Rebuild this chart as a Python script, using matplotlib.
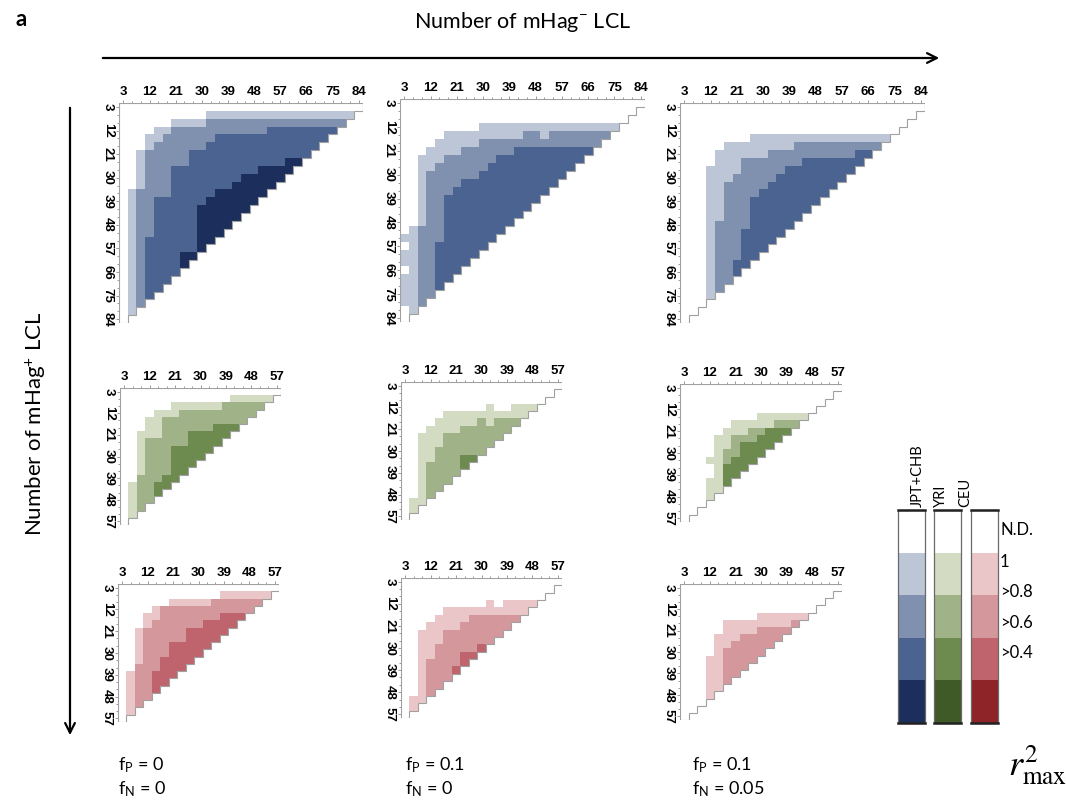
import numpy as np
import matplotlib
matplotlib.use("Agg")
import matplotlib.pyplot as plt
from matplotlib.colors import ListedColormap
from matplotlib.patches import Rectangle

N = None
# ---------------- data ----------------
big_ticks = [3, 12, 21, 30, 39, 48, 57, 66, 75, 84]
small_ticks = [3, 12, 21, 30, 39, 48, 57]
level_labels = ["N.D.", "1", ">0.8", ">0.6", ">0.4"]
populations = ["JPT+CHB", "YRI", "CEU"]
conditions = [("0", "0"), ("0.1", "0"), ("0.1", "0.05")]

blue = ["#ffffff", "#bcc6d7", "#7f91ae", "#4a6391", "#1c2e5b"]
green = ["#ffffff", "#d3dbc2", "#a0b287", "#6d8a4f", "#3f5927"]
red = ["#ffffff", "#ebc6c8", "#d4979c", "#bf646c", "#8e2428"]

# For each mHag+ row: index of the first mHag- column reaching level 1..4 (None = never)
TL_L1 = [N, 10, 6, 4, 3, 3] + [2] * 5 + [1] * 16 + [N]
TL_L2 = [N, N, 10, 6, 5, 4] + [3] * 5 + [2] * 17
TL_L3 = [N, N, N, 17, 11, 10, 8, 8] + [6] * 4 + [4] * 5 + [3] * 11
TL_L4 = [N] * 7 + [19, 16, 14, 13, 11, 10] + [9] * 6 + [7, 7] + [N] * 7

TM_L1 = [N, N, N, 9, 5, 4, 3] + [2] * 9 + [1] * 11 + [N]
TM_L2 = [N, N, N, N, 14, 9, 7, 5, 4] + [3] * 7 + [2] * 12
TM_L3 = [N] * 6 + [13, 11, 10, 9, 7, 6] + [5] * 6 + [4] * 10
TM_L4 = [N] * 28
TM_fix = [(4, 16, 1), (17, 0, 1), (19, 0, 1), (20, 0, 1), (22, 0, 1), (23, 0, 1), (24, 0, 1), (25, 0, 1)]

TR_L1 = [N, N, N, N, 8, 5, 4, 4] + [3] * 20
TR_L2 = [N, N, N, N, N, 13, 10, 7, 7, 6] + [5] * 5 + [4] * 13
TR_L3 = [N] * 6 + [20, 14, 12, 11, 10, 9] + [8] * 4 + [7] * 4 + [6] * 8
TR_L4 = [N] * 28

ML_L1 = [N, 13, 6, 4, 3, 3] + [2] * 7 + [1] * 5 + [N]
ML_L2 = [N, N, 12, 7, 5, 5, 5] + [3] * 5 + [2] * 7
ML_L3 = [N, N, N, N, 15, 11, 8, 8] + [6] * 4 + [5] + [4] * 6
ML_L4 = [N] * 19

MM_L1 = [N, N, N, 13, 5, 4, 3] + [2] * 9 + [1] * 3
MM_L2 = [N, N, N, N, N, 9, 7, 5, 5, 4, 4] + [3] * 8
MM_L3 = [N] * 10 + [7, 7] + [N] * 7
MM_L4 = [N] * 19
MM_fix = [(3, 10, 1), (5, 10, 1)]

MR_L1 = [N, N, N, N, 9, 6, 5, 4, 4, 4, 3, 4, 4, 3, 3, 3, N, N, N]
MR_L2 = [N, N, N, N, N, 11, 8, 6, 6] + [5] * 10
MR_L3 = [N] * 6 + [10, 9, 7, 7, 6] + [5] * 8
MR_L4 = [N] * 19

BL_L1 = [N, 12, 6, 4, 3, 3] + [2] * 6 + [1] * 6 + [N]
BL_L2 = [N, N, 11, 5, 5, 4] + [3] * 5 + [2] * 8
BL_L3 = [N, N, N, N, 12, 10, 8, 8, 6, 6, 5, 5] + [4] * 7
BL_L4 = [N] * 19

BM_L1 = [N, N, N, 12, 5, 4, 3] + [2] * 9 + [1, 1, N]
BM_L2 = [N, N, N, N, N, 8, 7, 5, 5, 4, 4] + [3] * 8
BM_L3 = [N] * 9 + [9, 7, 7, 6] + [N] * 6
BM_L4 = [N] * 19
BM_fix = [(3, 10, 1)]

BR_L1 = [N, N, N, N, 9, 5, 5, 4, 4, 4] + [3] * 6 + [N] * 3
BR_L2 = [N] * 6 + [9, 7, 6] + [5] * 10
BR_L3 = [N] * 5 + [13] + [N] * 13
BR_L4 = [N] * 19

# ---------------- figure ----------------
W, H = 1066, 800
fig = plt.figure(figsize=(W / 100, H / 100), dpi=100)
BASE = "Lato"
plt.rcParams["font.family"] = [BASE, "DejaVu Sans"]
plt.rcParams["mathtext.fontset"] = "custom"
plt.rcParams["mathtext.rm"] = BASE
plt.rcParams["mathtext.it"] = BASE + ":italic"
plt.rcParams["mathtext.bf"] = BASE + ":bold"
TICKFONT = ["Liberation Sans Narrow", "Liberation Sans", "DejaVu Sans"]


def ax_px(l, r, t, b):
    return fig.add_axes([l / W, 1 - b / H, (r - l) / W, (b - t) / H])


def draw_panel(box, n, ticks, levels, colors, fixes=()):
    ax = ax_px(*box)
    Z = np.zeros((n, n))
    for r in range(n):
        for c in range(n - r):
            Z[r, c] = sum(1 for s in levels if s[r] is not None and c >= s[r])
    for r, c, v in fixes:
        Z[r, c] = v
    valid = np.add.outer(np.arange(n), np.arange(n)) <= n - 1
    Zm = np.ma.masked_where((~valid) | (Z == 0), Z)
    edges = 3 * np.arange(n + 1) + 1.5
    cmap = ListedColormap(colors[1:])
    ax.pcolormesh(edges, edges, Zm, cmap=cmap, vmin=0.5, vmax=4.5)
    # staircase outline
    xs = [edges[0], edges[n]]
    ys = [edges[0], edges[0]]
    for r in range(n):
        xs += [edges[n - r], edges[n - r]]
        ys += [edges[r], edges[r + 1]]
    xs += [edges[0], edges[0]]
    ys += [edges[n], edges[0]]
    ax.plot(xs, ys, color="#a0a0a0", lw=0.8, solid_joinstyle="miter")
    ax.set_xlim(edges[0], edges[-1])
    ax.set_ylim(edges[-1], edges[0])
    for s in ax.spines.values():
        s.set_visible(False)
    ax.xaxis.tick_top()
    ax.set_xticks(ticks)
    ax.set_yticks(ticks)
    ax.set_xticks(3 * np.arange(1, n + 1), minor=True)
    ax.set_yticks(3 * np.arange(1, n + 1), minor=True)
    ax.set_xticklabels([str(t) for t in ticks], fontsize=9.5, fontweight="bold",
                       family=TICKFONT)
    ax.set_yticklabels([str(t) for t in ticks], fontsize=9.5, fontweight="bold",
                       family=TICKFONT, rotation=-90, va="center")
    ax.tick_params(which="both", direction="out", length=2.2, width=0.6,
                   color="#8a8a8a", pad=1.5)
    ax.tick_params(which="minor", length=1.5)
    ax.set_facecolor("white")
    return ax


draw_panel((119, 363, 103, 323), 28, big_ticks, [TL_L1, TL_L2, TL_L3, TL_L4], blue)
draw_panel((400, 645, 99, 322), 28, big_ticks, [TM_L1, TM_L2, TM_L3, TM_L4], blue, TM_fix)
draw_panel((680, 925, 103, 323), 28, big_ticks, [TR_L1, TR_L2, TR_L3, TR_L4], blue)

draw_panel((120, 281, 388, 525), 19, small_ticks, [ML_L1, ML_L2, ML_L3, ML_L4], green)
draw_panel((401, 562, 382, 520), 19, small_ticks, [MM_L1, MM_L2, MM_L3, MM_L4], green, MM_fix)
draw_panel((680, 842, 384, 522), 19, small_ticks, [MR_L1, MR_L2, MR_L3, MR_L4], green)

draw_panel((118, 279, 584, 722), 19, small_ticks, [BL_L1, BL_L2, BL_L3, BL_L4], red)
draw_panel((401, 562, 578, 718), 19, small_ticks, [BM_L1, BM_L2, BM_L3, BM_L4], red, BM_fix)
draw_panel((680, 842, 584, 720), 19, small_ticks, [BR_L1, BR_L2, BR_L3, BR_L4], red)

# overlay axes in pixel coordinates
ov = fig.add_axes([0, 0, 1, 1], facecolor="none")
ov.set_xlim(0, W)
ov.set_ylim(H, 0)
ov.axis("off")

ov.text(15, 20, "a", fontsize=16, fontweight="bold", ha="left", va="center")
ov.text(523, 22, "Number of mHag$^{-}$ LCL", fontsize=15.5, ha="center", va="center")
ov.annotate("", xy=(942, 58), xytext=(100, 58),
            arrowprops=dict(arrowstyle="->,head_length=0.7,head_width=0.35", lw=1.6, color="black"))
ov.annotate("", xy=(70, 738), xytext=(70, 105),
            arrowprops=dict(arrowstyle="->,head_length=0.7,head_width=0.35", lw=1.6, color="black"))
ov.text(36, 424, "Number of mHag$^{+}$ LCL", fontsize=16, rotation=90, ha="center", va="center")

# condition labels
for x0, (fp, fn) in zip([118, 405, 692], conditions):
    ov.text(x0, 765, "f$_{\\mathrm{P}}$ = " + fp, fontsize=13, ha="left", va="center")
    ov.text(x0, 789, "f$_{\\mathrm{N}}$ = " + fn, fontsize=13, ha="left", va="center")

# legend bars
bar_x = [898, 934, 971]
bar_w = 27
top, seg = 510, 42.6
for bx, pal in zip(bar_x, [blue, green, red]):
    for k, col in enumerate(pal):
        ov.add_patch(Rectangle((bx, top + k * seg), bar_w, seg, facecolor=col, edgecolor="none"))
    ov.add_patch(Rectangle((bx, top), bar_w, 5 * seg, facecolor="none", edgecolor="#6a6a6a", lw=0.9))
    ov.plot([bx, bx + bar_w], [top, top], color="#222222", lw=1.8)
    ov.plot([bx, bx + bar_w], [top + 5 * seg, top + 5 * seg], color="#222222", lw=1.8)
for tx, name in zip([918, 941, 965], populations):
    ov.text(tx, 507, name, fontsize=10.5, rotation=90, ha="center", va="bottom")
for y, lab in zip([530, 562, 592, 623, 653], level_labels):
    ov.text(1000, y, lab, fontsize=12, ha="left", va="center")

ov.text(1008, 765, "$r^{2}_{\\mathrm{max}}$", fontsize=26, ha="left", va="center",
        math_fontfamily="stix")

fig.savefig("out.png", dpi=100)
